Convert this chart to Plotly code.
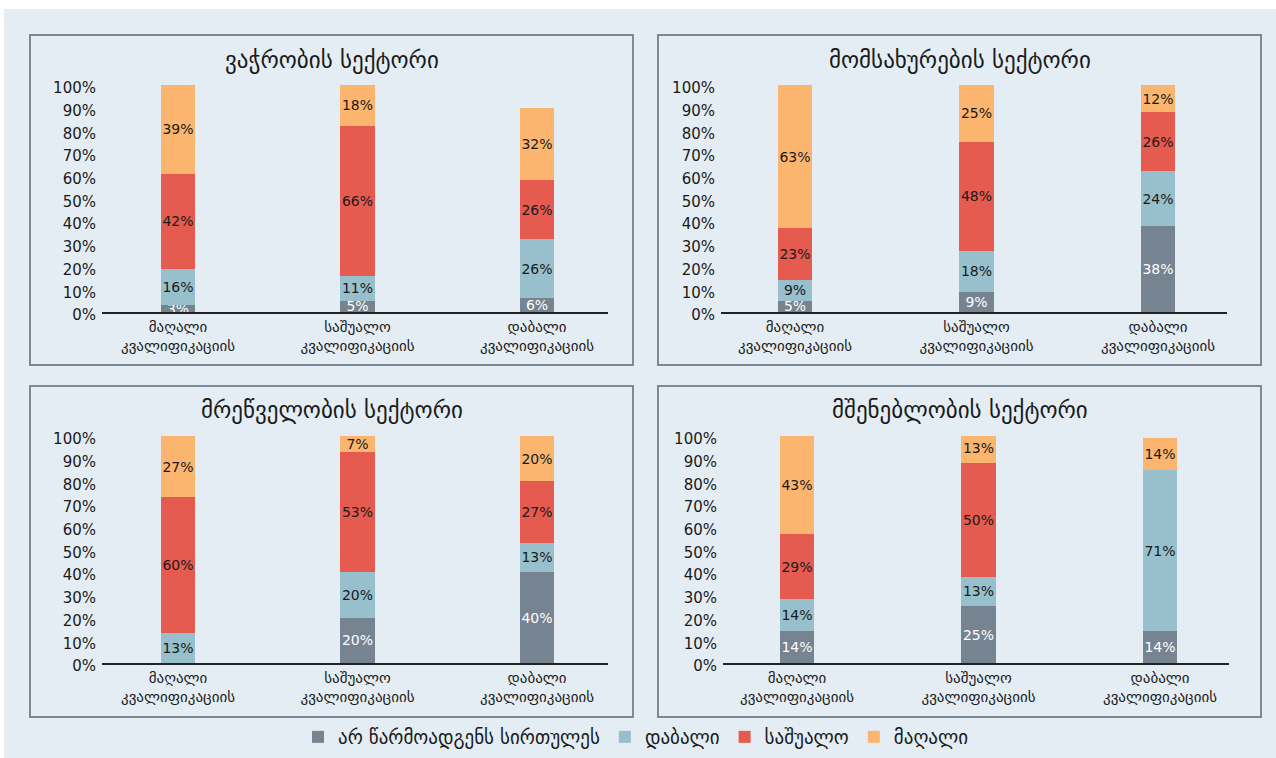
import plotly.graph_objects as go

# ---- data -------------------------------------------------------------
categories = ["მაღალი<br>კვალიფიკაციის", "საშუალო<br>კვალიფიკაციის", "დაბალი<br>კვალიფიკაციის"]
series_names = ["არ წარმოადგენს სირთულეს", "დაბალი", "საშუალო", "მაღალი"]
y_ticks = [0, 10, 20, 30, 40, 50, 60, 70, 80, 90, 100]
y_ticktext = ["0%", "10%", "20%", "30%", "40%", "50%", "60%", "70%", "80%", "90%", "100%"]

panel_titles = ["ვაჭრობის სექტორი", "მომსახურების სექტორი",
                "მრეწველობის სექტორი", "მშენებლობის სექტორი"]

trade_none = [3, 5, 6]
trade_low = [16, 11, 26]
trade_mid = [42, 66, 26]
trade_high = [39, 18, 32]

services_none = [5, 9, 38]
services_low = [9, 18, 24]
services_mid = [23, 48, 26]
services_high = [63, 25, 12]

industry_none = [0, 20, 40]
industry_low = [13, 20, 13]
industry_mid = [60, 53, 27]
industry_high = [27, 7, 20]

construction_none = [14, 25, 14]
construction_low = [14, 13, 71]
construction_mid = [29, 50, 0]
construction_high = [43, 13, 14]

panels_data = [
    [trade_none, trade_low, trade_mid, trade_high],
    [services_none, services_low, services_mid, services_high],
    [industry_none, industry_low, industry_mid, industry_high],
    [construction_none, construction_low, construction_mid, construction_high],
]

# ---- styling ----------------------------------------------------------
W, H = 1276, 758
colors = ["#768390", "#97bfcc", "#e55b4f", "#fbb56f"]
text_colors = ["#ffffff", "#1a1a1a", "#1a1a1a", "#1a1a1a"]
bg = "#e4edf3"
border = "#7d8a96"
FONT = "DejaVu Sans, sans-serif"


def fx(x):
    return x / W


def fy(y):
    return 1 - y / H


# pixel geometry of each panel: frame box, plot x extent, bar centres, y extent
panels = [
    dict(box=(30, 35, 633, 365), x0=102, x1=608, c0=178, c2=537, y0=312, y100=85, title_y=60),
    dict(box=(658, 35, 1261, 365), x0=721, x1=1227, c0=795, c2=1158, y0=312, y100=85, title_y=60),
    dict(box=(30, 386, 633, 717), x0=102, x1=608, c0=178, c2=537, y0=663, y100=436, title_y=410),
    dict(box=(658, 386, 1261, 717), x0=723, x1=1229, c0=797, c2=1160, y0=663, y100=436, title_y=410),
]

fig = go.Figure()
layout = dict(
    width=W, height=H, autosize=False,
    margin=dict(l=0, r=0, t=0, b=0, pad=0, autoexpand=False),
    paper_bgcolor="white", plot_bgcolor="rgba(0,0,0,0)",
    barmode="stack",
    font=dict(family=FONT, size=15, color="#1a1a1a"),
    uniformtext=dict(minsize=14, mode="show"),
    showlegend=True,
    legend=dict(orientation="h", x=fx(636), xanchor="center", y=fy(737), yanchor="middle",
                bgcolor="rgba(0,0,0,0)", font=dict(size=19, family=FONT, color="#1a1a1a"),
                itemwidth=30, traceorder="normal"),
)

shapes = [dict(type="rect", xref="paper", yref="paper", x0=fx(4), x1=1, y0=0, y1=fy(9),
               fillcolor=bg, line=dict(width=0), layer="below")]
annotations = []

bar_x = [0, 1, 2]

for i, (p, data) in enumerate(zip(panels, panels_data)):
    k = "" if i == 0 else str(i + 1)
    xa, ya = "x" + k, "y" + k
    unit = (p["c2"] - p["c0"]) / 2
    xr = [-(p["c0"] - p["x0"]) / unit, 2 + (p["x1"] - p["c2"]) / unit]

    for s, vals in enumerate(data):
        fig.add_trace(go.Bar(
            x=bar_x, y=vals, xaxis=xa, yaxis=ya,
            name=series_names[s], legendgroup=series_names[s], showlegend=(i == 0),
            marker=dict(color=colors[s], line=dict(width=0)),
            width=0.19,
            text=[f"{v}%" if v > 0 else "" for v in vals],
            textposition="inside", insidetextanchor="middle",
            textangle=0,
            insidetextfont=dict(color=text_colors[s], size=14, family=FONT),
            hoverinfo="skip",
        ))

    layout["xaxis" + k] = dict(
        domain=[fx(p["x0"]), fx(p["x1"])], range=xr, anchor=ya,
        tickvals=bar_x, ticktext=categories, ticks="",
        showline=True, linecolor="#222222", linewidth=1.5,
        showgrid=False, zeroline=False, fixedrange=True, automargin=False,
        tickfont=dict(size=15, family=FONT, color="#1a1a1a"),
    )
    layout["yaxis" + k] = dict(
        domain=[fy(p["y0"]), fy(p["y100"])], range=[0, 100], anchor=xa,
        tickvals=y_ticks, ticktext=y_ticktext, ticks="",
        ticklabelstandoff=5, ticklabelshift=3,
        showline=False, showgrid=False, zeroline=False, fixedrange=True, automargin=False,
        tickfont=dict(size=15, family=FONT, color="#1a1a1a"),
    )

    bx0, by0, bx1, by1 = p["box"]
    shapes.append(dict(type="rect", xref="paper", yref="paper",
                       x0=fx(bx0), x1=fx(bx1), y0=fy(by1), y1=fy(by0),
                       fillcolor="rgba(0,0,0,0)", line=dict(color=border, width=2),
                       layer="below"))
    annotations.append(dict(text=panel_titles[i], xref="paper", yref="paper",
                            x=fx((bx0 + bx1) / 2), y=fy(p["title_y"]),
                            xanchor="center", yanchor="middle", showarrow=False,
                            font=dict(size=23, family=FONT, color="#1a1a1a")))

layout["shapes"] = shapes
layout["annotations"] = annotations
fig.update_layout(**layout)

fig.write_html("out.html")
